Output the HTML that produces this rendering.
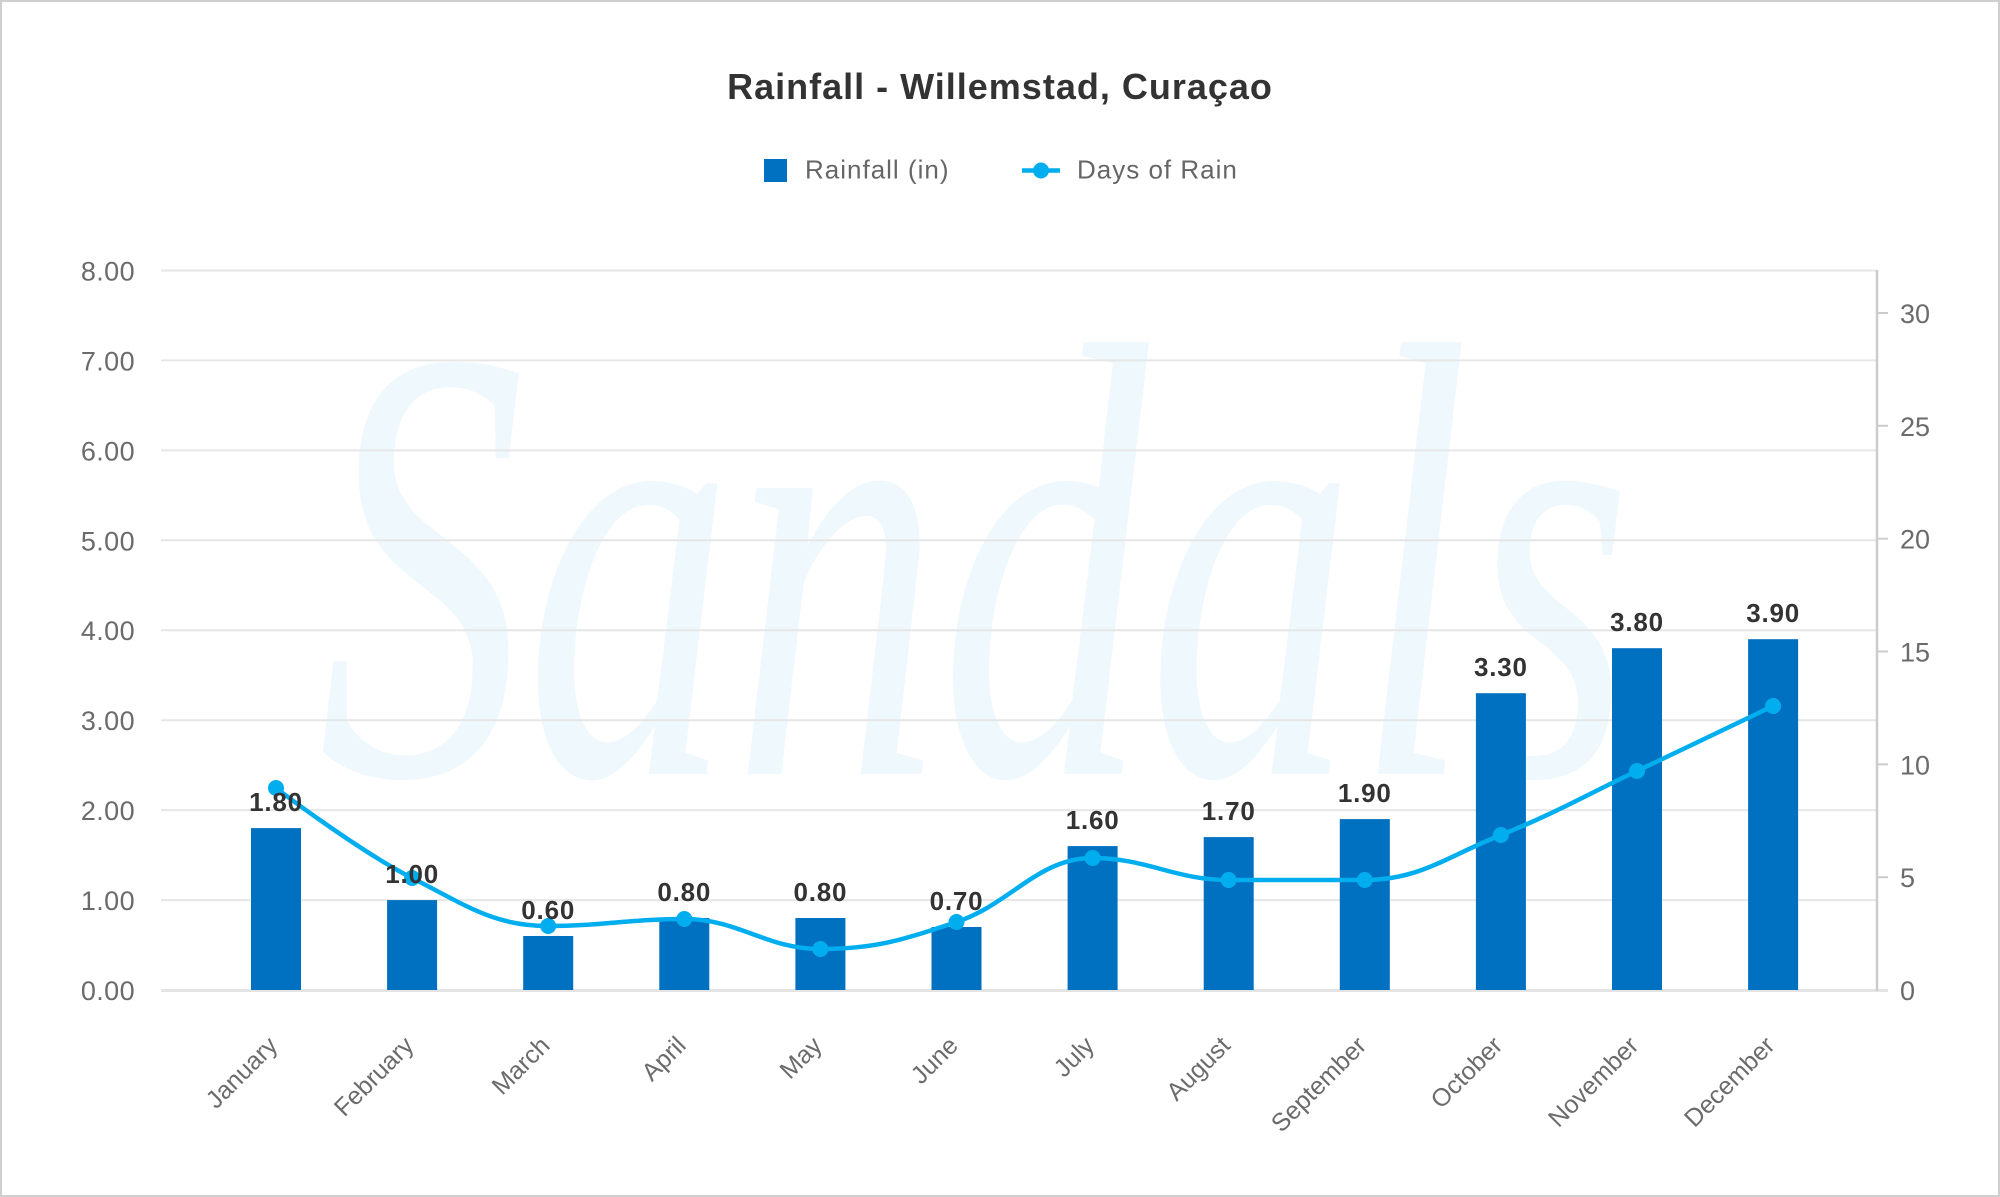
<!DOCTYPE html>
<html>
<head>
<meta charset="utf-8">
<style>
  html, body { margin: 0; padding: 0; background: #ffffff; }
  svg { display: block; }
</style>
</head>
<body>
<svg width="2000" height="1197" viewBox="0 0 2000 1197" xmlns="http://www.w3.org/2000/svg" font-family="'Liberation Sans', Arial, sans-serif">
  <rect x="0" y="0" width="2000" height="1197" fill="#ffffff"/>
  <rect x="1" y="1" width="1998" height="1195" fill="none" stroke="#cfcfcf" stroke-width="2"/>

  <!-- watermark -->
  <g transform="scale(1,1.5)">
    <text x="318" y="516" font-family="'Liberation Serif', serif" font-style="italic" font-size="415" fill="#eff8fd">Sandals</text>
  </g>

  <!-- title -->
  <text x="1000" y="99" text-anchor="middle" font-size="36" font-weight="bold" fill="#333333" letter-spacing="1">Rainfall - Willemstad, Curaçao</text>

  <!-- legend -->
  <rect x="764" y="159" width="23" height="23" fill="#0070c0"/>
  <text x="805" y="178.5" font-size="26" fill="#666666" letter-spacing="1">Rainfall (in)</text>
  <line x1="1022" y1="170.5" x2="1060" y2="170.5" stroke="#00aeef" stroke-width="4.5"/>
  <circle cx="1041" cy="170.5" r="8" fill="#00aeef"/>
  <text x="1077" y="178.5" font-size="26" fill="#666666" letter-spacing="1">Days of Rain</text>

  <!-- gridlines -->
  <g stroke="#e6e6e6" stroke-width="2">
    <line x1="161" y1="270.5" x2="1877" y2="270.5"/>
    <line x1="161" y1="360.4" x2="1877" y2="360.4"/>
    <line x1="161" y1="450.4" x2="1877" y2="450.4"/>
    <line x1="161" y1="540.3" x2="1877" y2="540.3"/>
    <line x1="161" y1="630.2" x2="1877" y2="630.2"/>
    <line x1="161" y1="720.2" x2="1877" y2="720.2"/>
    <line x1="161" y1="810.1" x2="1877" y2="810.1"/>
    <line x1="161" y1="900.1" x2="1877" y2="900.1"/>
  </g>
  <line x1="161" y1="990.5" x2="1888" y2="990.5" stroke="#e4e4e4" stroke-width="3"/>

  <!-- right axis -->
  <line x1="1877" y1="270" x2="1877" y2="991" stroke="#cccccc" stroke-width="2.5"/>
  <g stroke="#cccccc" stroke-width="2">
    <line x1="1877" y1="313" x2="1888" y2="313"/>
    <line x1="1877" y1="425.8" x2="1888" y2="425.8"/>
    <line x1="1877" y1="538.7" x2="1888" y2="538.7"/>
    <line x1="1877" y1="651.5" x2="1888" y2="651.5"/>
    <line x1="1877" y1="764.3" x2="1888" y2="764.3"/>
    <line x1="1877" y1="877.2" x2="1888" y2="877.2"/>
  </g>

  <!-- left axis labels -->
  <g font-size="27" fill="#6b6b6b" text-anchor="end" letter-spacing="0.4">
    <text x="135" y="280.5">8.00</text>
    <text x="135" y="370.4">7.00</text>
    <text x="135" y="460.4">6.00</text>
    <text x="135" y="550.3">5.00</text>
    <text x="135" y="640.2">4.00</text>
    <text x="135" y="730.2">3.00</text>
    <text x="135" y="820.1">2.00</text>
    <text x="135" y="910.1">1.00</text>
    <text x="135" y="1000">0.00</text>
  </g>

  <!-- right axis labels -->
  <g font-size="27" fill="#6b6b6b" text-anchor="start">
    <text x="1900" y="323">30</text>
    <text x="1900" y="435.8">25</text>
    <text x="1900" y="548.7">20</text>
    <text x="1900" y="661.5">15</text>
    <text x="1900" y="774.3">10</text>
    <text x="1900" y="887.2">5</text>
    <text x="1900" y="1000">0</text>
  </g>

  <!-- bars -->
  <g fill="#0070c0">
    <rect x="251" y="828.1" width="50" height="161.9"/>
    <rect x="387.1" y="900.1" width="50" height="89.9"/>
    <rect x="523.2" y="936.0" width="50" height="54.0"/>
    <rect x="659.3" y="918.0" width="50" height="72.0"/>
    <rect x="795.4" y="918.0" width="50" height="72.0"/>
    <rect x="931.5" y="927.0" width="50" height="63.0"/>
    <rect x="1067.6" y="846.1" width="50" height="143.9"/>
    <rect x="1203.7" y="837.1" width="50" height="152.9"/>
    <rect x="1339.8" y="819.1" width="50" height="170.9"/>
    <rect x="1475.9" y="693.2" width="50" height="296.8"/>
    <rect x="1612" y="648.2" width="50" height="341.8"/>
    <rect x="1748.1" y="639.2" width="50" height="350.8"/>
  </g>

  <!-- spline -->
  <path d="M 276 788
           C 276 788, 357.7 850.4, 412.1 878
           C 466.5 905.6, 493.8 926, 548.2 926
           C 602.6 926, 629.9 919, 684.3 919
           C 738.7 919, 766.0 949, 820.4 949
           C 874.8 949, 902.1 940.2, 956.5 922
           C 1010.9 903.8, 1038.2 858, 1092.6 858
           C 1147.0 858, 1174.3 880, 1228.7 880
           C 1283.1 880, 1310.4 880, 1364.8 880
           C 1419.2 880, 1446.5 856.8, 1500.9 835
           C 1555.3 813.2, 1582.6 796.8, 1637 771
           C 1691.4 745.2, 1773.1 706, 1773.1 706"
        fill="none" stroke="#00aeef" stroke-width="4.5" stroke-linejoin="round" stroke-linecap="round"/>
  <g fill="#00aeef">
    <circle cx="276" cy="788" r="8"/>
    <circle cx="412.1" cy="878" r="8"/>
    <circle cx="548.2" cy="926" r="8"/>
    <circle cx="684.3" cy="919" r="8"/>
    <circle cx="820.4" cy="949" r="8"/>
    <circle cx="956.5" cy="922" r="8"/>
    <circle cx="1092.6" cy="858" r="8"/>
    <circle cx="1228.7" cy="880" r="8"/>
    <circle cx="1364.8" cy="880" r="8"/>
    <circle cx="1500.9" cy="835" r="8"/>
    <circle cx="1637" cy="771" r="8"/>
    <circle cx="1773.1" cy="706" r="8"/>
  </g>

  <!-- data labels -->
  <g font-size="26" font-weight="bold" fill="#333333" text-anchor="middle" letter-spacing="0.8">
    <text x="276" y="811">1.80</text>
    <text x="412.1" y="883">1.00</text>
    <text x="548.2" y="919">0.60</text>
    <text x="684.3" y="901">0.80</text>
    <text x="820.4" y="901">0.80</text>
    <text x="956.5" y="910">0.70</text>
    <text x="1092.6" y="829">1.60</text>
    <text x="1228.7" y="820">1.70</text>
    <text x="1364.8" y="802">1.90</text>
    <text x="1500.9" y="676">3.30</text>
    <text x="1637" y="631">3.80</text>
    <text x="1773.1" y="622">3.90</text>
  </g>

  <!-- x axis labels -->
  <g font-size="25" fill="#6b6b6b" text-anchor="end">
    <text x="279" y="1047" transform="rotate(-45 279 1047)">January</text>
    <text x="415.1" y="1047" transform="rotate(-45 415.1 1047)">February</text>
    <text x="551.2" y="1047" transform="rotate(-45 551.2 1047)">March</text>
    <text x="687.3" y="1047" transform="rotate(-45 687.3 1047)">April</text>
    <text x="823.4" y="1047" transform="rotate(-45 823.4 1047)">May</text>
    <text x="959.5" y="1047" transform="rotate(-45 959.5 1047)">June</text>
    <text x="1095.6" y="1047" transform="rotate(-45 1095.6 1047)">July</text>
    <text x="1231.7" y="1047" transform="rotate(-45 1231.7 1047)">August</text>
    <text x="1367.8" y="1047" transform="rotate(-45 1367.8 1047)">September</text>
    <text x="1503.9" y="1047" transform="rotate(-45 1503.9 1047)">October</text>
    <text x="1640" y="1047" transform="rotate(-45 1640 1047)">November</text>
    <text x="1776.1" y="1047" transform="rotate(-45 1776.1 1047)">December</text>
  </g>
</svg>
</body>
</html>
